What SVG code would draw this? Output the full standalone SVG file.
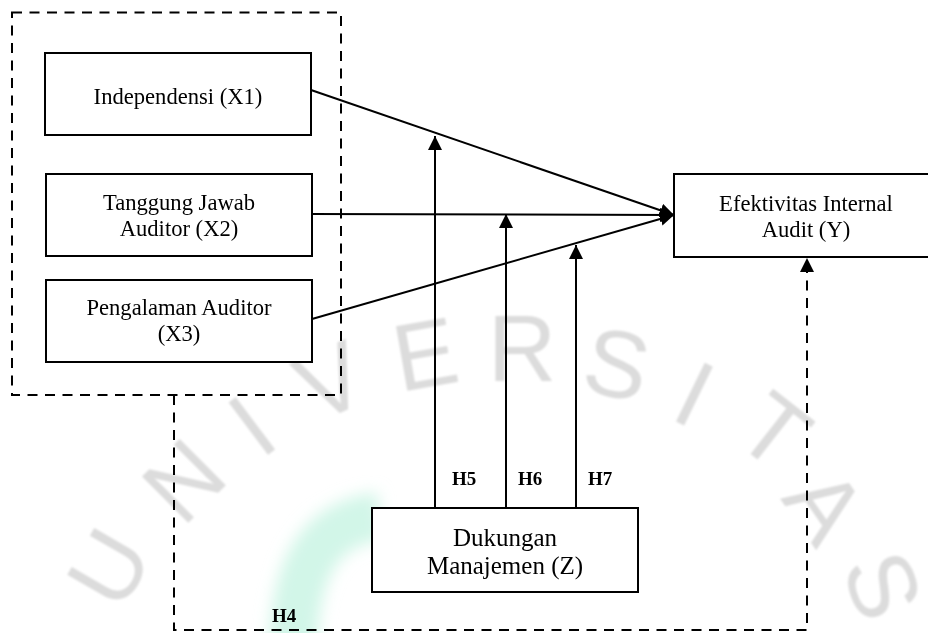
<svg xmlns="http://www.w3.org/2000/svg" width="928" height="633" viewBox="0 0 928 633">
<defs>
<style>
.box{fill:#fff;stroke:#000;stroke-width:2}
.lbl{font-size:22.6px;fill:#000;text-anchor:middle}
.lblz{font-size:25px;fill:#000;text-anchor:middle}
.h{font-size:19px;font-weight:bold;fill:#000}
.ln{fill:none;stroke:#000;stroke-width:2}
.dash{fill:none;stroke:#000;stroke-width:2;stroke-dasharray:10 7.5}
.wm{font-size:95px;fill:#dcdcdc;text-anchor:middle}
</style>
<marker id="ah" viewBox="0 0 14 14" refX="14" refY="7" markerWidth="14" markerHeight="14" markerUnits="userSpaceOnUse" orient="auto">
<path d="M0,0 L14,7 L0,14 z" fill="#000"/>
</marker>
<filter id="blur" x="-50%" y="-50%" width="200%" height="200%">
<feGaussianBlur stdDeviation="8"/>
</filter>
<filter id="soft" x="-20%" y="-20%" width="140%" height="140%">
<feGaussianBlur stdDeviation="1.2"/>
</filter>
</defs>
<rect width="928" height="633" fill="#fff"/>
<g id="watermark" font-family="Liberation Sans, Arial, sans-serif">
<path d="M293 660 C293 568 318 524 380 516" fill="none" stroke="#d2f6e8" stroke-width="48" filter="url(#blur)"/>
<g filter="url(#soft)">
<text class="wm" transform="translate(108 567) rotate(-60)" y="34">U</text>
<text class="wm" transform="translate(183 480) rotate(-45)" y="34">N</text>
<text class="wm" transform="translate(251 425) rotate(-37)" y="34">I</text>
<text class="wm" transform="translate(330 380) rotate(-24)" y="34">V</text>
<text class="wm" transform="translate(425 353) rotate(-10)" y="34">E</text>
<text class="wm" transform="translate(522 347) rotate(0)" y="34">R</text>
<text class="wm" transform="translate(617 363) rotate(12)" y="34">S</text>
<text class="wm" transform="translate(695 393) rotate(26)" y="34">I</text>
<text class="wm" transform="translate(775 430) rotate(38)" y="34">T</text>
<text class="wm" transform="translate(826 505) rotate(55)" y="34">A</text>
<text class="wm" transform="translate(884 585) rotate(70)" y="34">S</text>
</g>
</g>
<g id="group-x">
<rect class="dash" x="12" y="12.5" width="329" height="382.5"/>
</g>
<g id="connectors" font-family="Liberation Serif, Times New Roman, DejaVu Serif, serif">
<path class="ln" d="M311 90 L674 215" marker-end="url(#ah)"/>
<path class="ln" d="M309 214 L674 215" marker-end="url(#ah)"/>
<path class="ln" d="M312 319 L674 215" marker-end="url(#ah)"/>
<path class="ln" d="M435 508 V136" marker-end="url(#ah)"/>
<path class="ln" d="M506 508 V214" marker-end="url(#ah)"/>
<path class="ln" d="M576 508 V245" marker-end="url(#ah)"/>
<path class="dash" d="M174 395 V630 H807 V258" marker-end="url(#ah)"/>
<text class="h" x="452" y="485">H5</text>
<text class="h" x="518" y="485">H6</text>
<text class="h" x="588" y="485">H7</text>
<text class="h" x="272" y="622">H4</text>
</g>
<g id="nodes" font-family="Liberation Serif, Times New Roman, DejaVu Serif, serif">
<g id="x1">
<rect class="box" x="45" y="53" width="266" height="82"/>
<text class="lbl" x="178" y="104">Independensi (X1)</text>
</g>
<g id="x2">
<rect class="box" x="46" y="174" width="266" height="82"/>
<text class="lbl" x="179" y="210">Tanggung Jawab</text>
<text class="lbl" x="179" y="236">Auditor (X2)</text>
</g>
<g id="x3">
<rect class="box" x="46" y="280" width="266" height="82"/>
<text class="lbl" x="179" y="315">Pengalaman Auditor</text>
<text class="lbl" x="179" y="341">(X3)</text>
</g>
<g id="y">
<rect class="box" x="674" y="174" width="264" height="83"/>
<text class="lbl" x="806" y="211">Efektivitas Internal</text>
<text class="lbl" x="806" y="237">Audit (Y)</text>
</g>
<g id="z">
<rect class="box" x="372" y="508" width="266" height="84"/>
<text class="lblz" x="505" y="546">Dukungan</text>
<text class="lblz" x="505" y="574">Manajemen (Z)</text>
</g>
</g>
</svg>
